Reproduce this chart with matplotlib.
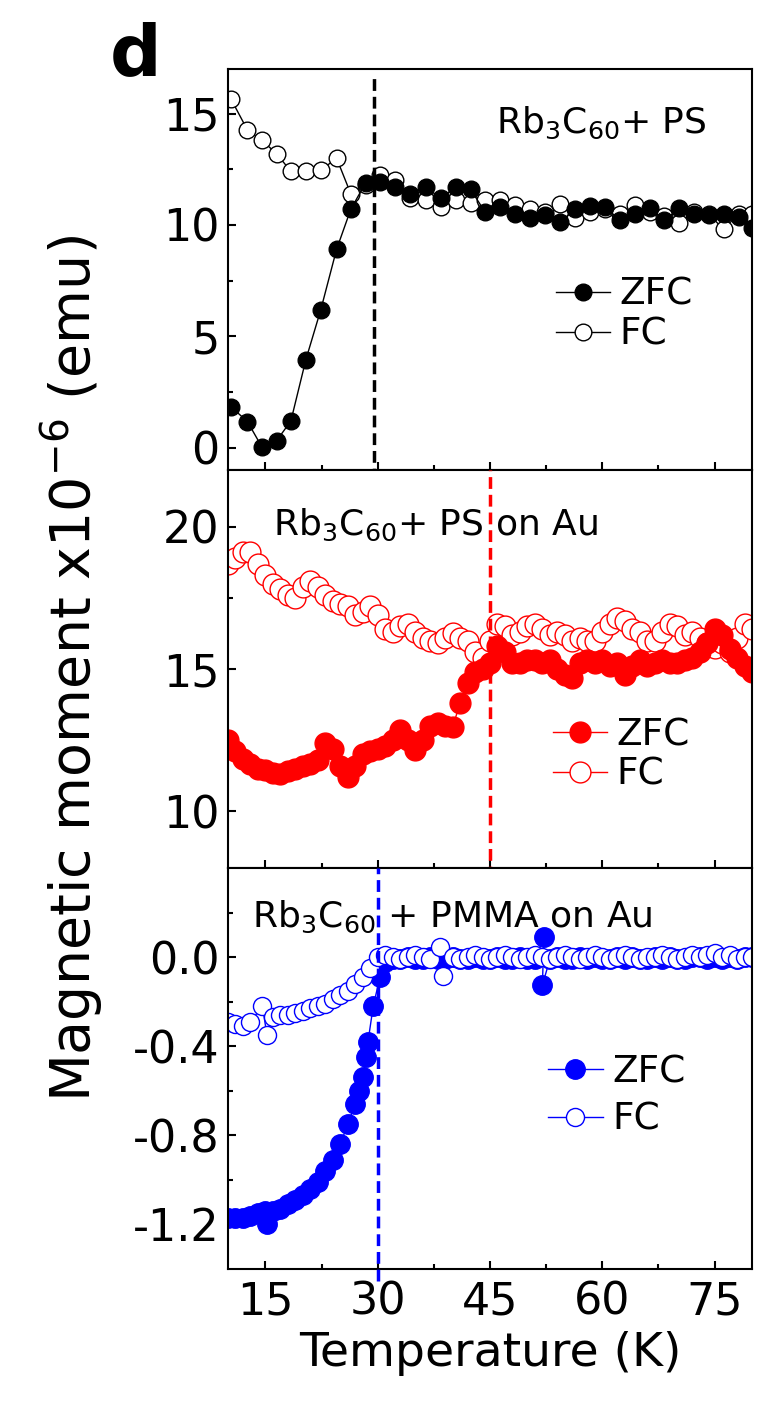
import numpy as np
import matplotlib
matplotlib.use('Agg')
import matplotlib.pyplot as plt
from matplotlib.ticker import FixedLocator, FormatStrFormatter

plt.rcParams['font.family'] = ['DejaVu Sans']
plt.rcParams['mathtext.fontset'] = 'dejavusans'
plt.rcParams['axes.unicode_minus'] = False

# --- top panel: Rb3C60 + PS (about 2 K steps)
temp_ps = [10.4, 12.6, 14.5, 16.5, 18.4, 20.4, 22.4, 24.5, 26.4, 28.4, 30.3, 32.3,
           34.3, 36.4, 38.4, 40.4, 42.4, 44.3, 46.3, 48.3, 50.4, 52.4, 54.4, 56.4,
           58.4, 60.4, 62.4, 64.4, 66.4, 68.3, 70.3, 72.3, 74.2, 76.2, 78.2, 80.0]
zfc_ps = [1.84, 1.17, 0.05, 0.32, 1.2, 3.95, 6.2, 8.9, 10.7, 11.9, 11.95, 11.7,
          11.4, 11.7, 11.2, 11.7, 11.6, 10.6, 10.8, 10.5, 10.3, 10.45, 10.15, 10.7,
          10.85, 10.8, 10.2, 10.5, 10.75, 10.2, 10.75, 10.5, 10.45, 10.5, 10.35, 9.85]
fc_ps = [15.65, 14.26, 13.8, 13.2, 12.4, 12.4, 12.45, 13.0, 11.4, 11.8, 12.25, 12.0,
         11.2, 11.1, 10.8, 11.1, 11.0, 11.1, 11.1, 10.9, 10.7, 10.6, 10.95, 10.3,
         10.6, 10.7, 10.5, 10.9, 10.6, 10.4, 10.1, 10.6, 10.5, 9.8, 10.5, 10.5]

# --- middle panel: Rb3C60 + PS on Au (1 K steps, 10..80 K)
temp_au = np.arange(10, 81)
zfc_au = [12.5, 12.1, 11.85, 11.65, 11.5, 11.45, 11.35, 11.3, 11.4, 11.5,
          11.6, 11.65, 11.8, 12.4, 12.2, 11.6, 11.2, 11.6, 12.0, 12.1,
          12.2, 12.3, 12.5, 12.85, 12.5, 12.15, 12.5, 13.0, 13.1, 13.0,
          12.95, 13.8, 14.5, 14.9, 15.0, 15.2, 15.8, 15.6, 15.2, 15.2,
          15.3, 15.3, 15.2, 15.3, 15.0, 14.8, 14.7, 15.2, 15.3, 15.2,
          15.3, 15.1, 15.2, 14.8, 15.1, 15.3, 15.1, 15.2, 15.3, 15.2,
          15.2, 15.3, 15.4, 15.6, 15.9, 16.4, 16.2, 15.7, 15.4, 15.1,
          14.9]
fc_au = [18.7, 18.9, 19.1, 19.1, 18.7, 18.3, 18.0, 17.8, 17.6, 17.5,
         17.9, 18.1, 17.9, 17.6, 17.4, 17.3, 17.2, 16.9, 17.0, 17.2,
         16.9, 16.4, 16.3, 16.5, 16.6, 16.3, 16.1, 16.0, 15.9, 16.1,
         16.25, 16.1, 16.0, 15.6, 15.4, 16.0, 16.6, 16.5, 16.2, 16.3,
         16.5, 16.6, 16.4, 16.2, 16.3, 16.2, 16.0, 16.1, 16.0, 16.0,
         16.3, 16.6, 16.8, 16.7, 16.4, 16.3, 16.0, 16.0, 16.3, 16.6,
         16.5, 16.2, 16.3, 16.1, 15.9, 15.75, 15.9, 15.6, 16.1, 16.6,
         16.4]

# --- bottom panel: Rb3C60 + PMMA on Au
temp_pmma_zfc = ([10, 11, 12, 13, 14, 15, 15.2, 16, 17, 18, 19, 20, 21, 22, 23, 24,
                  25, 26, 27, 27.5, 28, 28.5, 28.7, 29.4, 30.3]
                 + list(range(31, 52)) + [52.2, 52.0] + list(range(53, 81)))
zfc_pmma = ([-1.17, -1.17, -1.17, -1.16, -1.15, -1.14, -1.20, -1.14, -1.13, -1.11,
             -1.09, -1.07, -1.04, -1.01, -0.96, -0.91, -0.84, -0.75, -0.66, -0.60,
             -0.54, -0.45, -0.38, -0.22, -0.09]
            + [-0.02, -0.01, -0.01, 0.0, -0.01, -0.01, 0.0, -0.01, -0.01, 0.0,
               -0.01, -0.01, 0.0, -0.01, -0.01, 0.0, -0.01, -0.01, 0.0, -0.01, -0.01]
            + [0.09, -0.125]
            + [-0.01, 0.0, -0.01, -0.01, 0.0, -0.01, 0.0, -0.01, -0.01, 0.0,
               -0.01, 0.0, -0.01, -0.01, 0.0, -0.01, 0.0, -0.01, -0.01, 0.0,
               0.0, -0.01, 0.0, -0.01, 0.0, -0.01, 0.0, 0.0])
temp_pmma_fc = ([10, 11, 12, 13, 14.6, 15.2] + list(range(16, 38)) + [38.3, 38.7]
                + list(range(40, 81)))
fc_pmma = ([-0.29, -0.30, -0.31, -0.29, -0.22, -0.35]
           + [-0.27, -0.26, -0.26, -0.25, -0.24, -0.23, -0.22, -0.21, -0.19, -0.17,
              -0.15, -0.12, -0.09, -0.05, 0.0, 0.01, 0.0, -0.01, 0.0, 0.01, 0.0, -0.01]
           + [0.045, -0.085]
           + [0.0, -0.01, 0.0, 0.01, 0.0, -0.01, 0.0, 0.01, 0.0, -0.01,
              0.0, 0.01, 0.0, -0.01, 0.0, 0.01, 0.0, -0.01, 0.0, 0.01,
              0.0, -0.01, 0.0, 0.01, 0.0, -0.01, 0.0, 0.0, 0.01, 0.0,
              -0.01, 0.0, 0.01, 0.0, 0.01, 0.02, 0.0, 0.01, -0.01, 0.0,
              0.0])

W, H = 777, 1413
fig = plt.figure(figsize=(W / 100, H / 100), dpi=100)


def panel(y0, y1):
    return fig.add_axes([228 / W, 1 - y1 / H, 524 / W, (y1 - y0) / H])


ax1 = panel(69, 470)
ax2 = panel(470, 868)
ax3 = panel(868, 1269)

# data, FC drawn first except in the bottom panel
f1, = ax1.plot(temp_ps, fc_ps, '-o', color='k', mfc='white', mec='k', ms=12, mew=1.0, lw=1)
z1, = ax1.plot(temp_ps, zfc_ps, '-o', color='k', ms=12, lw=1)

f2, = ax2.plot(temp_au, fc_au, '-o', color='red', mfc='white', mec='red', ms=15, mew=1.0, lw=1)
z2, = ax2.plot(temp_au, zfc_au, '-o', color='red', ms=15, lw=1)

z3, = ax3.plot(temp_pmma_zfc, zfc_pmma, '-o', color='blue', ms=14, lw=1)
f3, = ax3.plot(temp_pmma_fc, fc_pmma, '-o', color='blue', mfc='white', mec='blue', ms=13, mew=1.0, lw=1)

# dashed Tc lines
dash = (0, (3.4, 1.7))
ax1.plot([29.5, 29.5], [-0.025, 0.98], transform=ax1.get_xaxis_transform(),
         ls=dash, lw=2.5, color='k', clip_on=False, zorder=5)
ax2.plot([45, 45], [-0.025, 1.0], transform=ax2.get_xaxis_transform(),
         ls=dash, lw=2.5, color='red', clip_on=False, zorder=5)
ax3.plot([30, 30], [-0.03, 1.0], transform=ax3.get_xaxis_transform(),
         ls=dash, lw=2.5, color='blue', clip_on=False, zorder=5)

ax1.set_ylim(-1, 17)
ax2.set_ylim(8, 22)
ax3.set_ylim(-1.4, 0.4)

ax1.yaxis.set_major_locator(FixedLocator([0, 5, 10, 15]))
ax1.yaxis.set_minor_locator(FixedLocator([2.5, 7.5, 12.5]))
ax2.yaxis.set_major_locator(FixedLocator([10, 15, 20]))
ax2.yaxis.set_minor_locator(FixedLocator([12.5, 17.5]))
ax3.yaxis.set_major_locator(FixedLocator([-1.2, -0.8, -0.4, 0.0]))
ax3.yaxis.set_minor_locator(FixedLocator([-1.0, -0.6, -0.2, 0.2]))
ax3.yaxis.set_major_formatter(FormatStrFormatter('%.1f'))

for ax in (ax1, ax2, ax3):
    ax.set_xlim(10, 80)
    ax.xaxis.set_major_locator(FixedLocator([15, 30, 45, 60, 75]))
    ax.xaxis.set_minor_locator(FixedLocator([22.5, 37.5, 52.5, 67.5]))
    ax.tick_params(which='both', direction='in', top=False, right=False,
                   width=1.5, labelsize=32, pad=6)
    ax.tick_params(which='major', length=6)
    ax.tick_params(which='minor', length=3.5)
    for s in ax.spines.values():
        s.set_linewidth(1.5)
ax1.tick_params(labelbottom=False)
ax2.tick_params(labelbottom=False)
ax3.tick_params(axis='x', pad=8)

# sample labels
ax1.text(0.511, 0.840, r'Rb$_3$C$_{60}$+ PS', transform=ax1.transAxes, fontsize=26, va='baseline')
ax2.text(0.086, 0.837, r'Rb$_3$C$_{60}$+ PS on Au', transform=ax2.transAxes, fontsize=26, va='baseline')
ax3.text(0.046, 0.853, r'Rb$_3$C$_{60}$ + PMMA on Au', transform=ax3.transAxes, fontsize=26, va='baseline')

# legends
leg_kw = dict(frameon=False, numpoints=1, fontsize=27, handlelength=1.45,
              handletextpad=0.25, borderpad=0, borderaxespad=0, loc='center left')
ax1.legend([z1, f1], ['ZFC', 'FC'], bbox_to_anchor=(0.626, 0.387), labelspacing=0.1, **leg_kw)
ax2.legend([z2, f2], ['ZFC', 'FC'], bbox_to_anchor=(0.620, 0.284), labelspacing=0.1, **leg_kw)
ax3.legend([z3, f3], ['ZFC', 'FC'], bbox_to_anchor=(0.611, 0.431), labelspacing=0.3, **leg_kw)

ax3.set_xlabel('Temperature (K)', fontsize=34, labelpad=6)
fig.text(72 / W, 1 - 669 / H, r'Magnetic moment x10$^{-6}$ (emu)', rotation=90,
         ha='center', va='center', fontsize=40)
fig.text(110 / W, 1 - 75 / H, 'd', fontsize=52, fontweight='bold', va='baseline')

fig.savefig('out.png', dpi=100)
